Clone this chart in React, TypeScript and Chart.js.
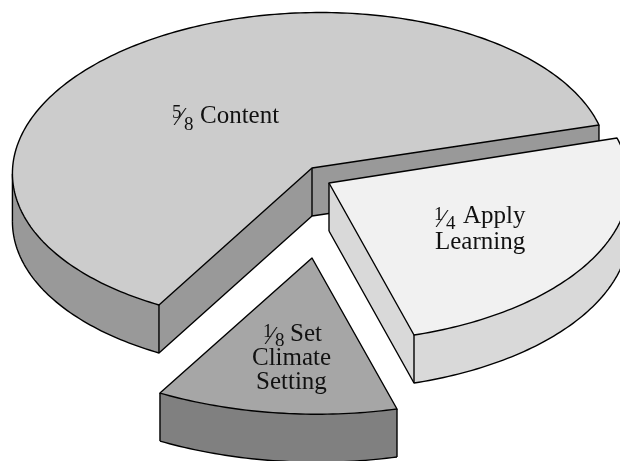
import React, { useEffect, useRef } from "react";
import { Chart, registerables } from "chart.js";

Chart.register(...registerables);

const categories = ["5/8 Content", "1/4 Apply Learning", "1/8 Set Climate Setting"];
const sliceValues = [5, 2, 1];
const topColors = ["#cccccc", "#f1f1f1", "#a6a6a6"];
const wallColors = ["#999999", "#d9d9d9", "#808080"];

// Each wedge is exploded and seen in perspective, so it has its own plane projection.
const planes = [
  { px: 312, py: 168, ux: 288.7, uy: -43.3, vx: -73.2, vy: -149.6, k: 0.006 },
  { px: 329, py: 183, ux: 288, uy: -45, vx: -85, vy: -152, k: 0 },
  { px: 312, py: 258, ux: 300, uy: -40, vx: -85, vy: -151, k: 0 },
];
const wallDepth = 48;
const LINE = 1.4;

// Word lines inside the wedges: text, left edge, baseline.
const wordLines = [
  { text: "Content", x: 200, y: 123 },
  { text: "Apply", x: 463, y: 223 },
  { text: "Learning", x: 435, y: 249 },
  { text: "Set", x: 290, y: 341 },
  { text: "Climate", x: 252, y: 365 },
  { text: "Setting", x: 256, y: 389 },
];

// Built-up fractions: numerator, denominator, left edge, numerator and denominator baselines.
const fractionLabels = [
  { top: "5", bottom: "8", x: 172, topY: 118, bottomY: 130 },
  { top: "1", bottom: "4", x: 434, topY: 220, bottomY: 229 },
  { top: "1", bottom: "8", x: 263, topY: 337, bottomY: 346 },
];

type Pt = { x: number; y: number };

function project(i: number, t: number, r = 1): Pt {
  const p = planes[i];
  const c = Math.cos(t) * r;
  const s = Math.sin(t) * r;
  const d = 1 + p.k * c;
  return { x: p.px + (c * p.ux + s * p.vx) / d, y: p.py + (c * p.uy + s * p.vy) / d };
}

// Outline counter-clockwise on screen: centre, then along the rim.
function outline(i: number, startAngle: number, endAngle: number) {
  const lo = -endAngle;
  const hi = -startAngle;
  const n = Math.max(8, Math.round(((hi - lo) * 180) / Math.PI));
  const pts: (Pt & { corner: boolean })[] = [{ ...project(i, 0, 0), corner: true }];
  for (let k = 0; k <= n; k++) {
    const t = lo + ((hi - lo) * k) / n;
    pts.push({ ...project(i, t), corner: k === 0 || k === n });
  }
  return pts;
}

function drawWedge(ctx: CanvasRenderingContext2D, i: number, arc: any, fill: string) {
  const { startAngle, endAngle } = arc.getProps(["startAngle", "endAngle"], true);
  const pts = outline(i, startAngle, endAngle);
  const count = pts.length;
  const at = (k: number) => pts[((k % count) + count) % count];
  const front = pts.map((a, k) => at(k + 1).x - a.x > 0);
  const isFront = (k: number) => front[((k % count) + count) % count];

  ctx.lineJoin = "round";
  ctx.lineWidth = LINE;
  ctx.strokeStyle = "#000000";

  // walls facing the viewer: each run of front edges is one solid band
  for (let k = 0; k < count; k++) {
    if (!isFront(k) || isFront(k - 1)) continue;
    let end = k;
    while (isFront(end)) end++;
    ctx.beginPath();
    for (let j = k; j <= end; j++) {
      const p = at(j);
      if (j === k) ctx.moveTo(p.x, p.y);
      else ctx.lineTo(p.x, p.y);
    }
    for (let j = end; j >= k; j--) {
      const p = at(j);
      ctx.lineTo(p.x, p.y + wallDepth);
    }
    ctx.closePath();
    ctx.fillStyle = wallColors[i];
    ctx.fill();

    ctx.beginPath();
    for (let j = k; j <= end; j++) {
      const p = at(j);
      if (j === k) ctx.moveTo(p.x, p.y + wallDepth);
      else ctx.lineTo(p.x, p.y + wallDepth);
    }
    ctx.stroke();
  }

  // vertical edges at corners and silhouettes
  pts.forEach((a, k) => {
    const before = isFront(k - 1);
    if ((before || front[k]) && (a.corner || before !== front[k])) {
      ctx.beginPath();
      ctx.moveTo(a.x, a.y);
      ctx.lineTo(a.x, a.y + wallDepth);
      ctx.stroke();
    }
  });

  // top face
  ctx.beginPath();
  pts.forEach((a, k) => (k ? ctx.lineTo(a.x, a.y) : ctx.moveTo(a.x, a.y)));
  ctx.closePath();
  ctx.fillStyle = fill;
  ctx.fill();
  ctx.stroke();
}

function drawLabels(ctx: CanvasRenderingContext2D) {
  ctx.fillStyle = "#111111";
  ctx.textBaseline = "alphabetic";
  ctx.textAlign = "left";
  ctx.font = '25px "Liberation Serif"';
  wordLines.forEach((l) => ctx.fillText(l.text, l.x, l.y));
  fractionLabels.forEach((f) => {
    ctx.font = '19px "Liberation Serif"';
    ctx.fillText(f.top, f.x, f.topY);
    ctx.fillText(f.bottom, f.x + 12, f.bottomY);
    ctx.font = '25px "Liberation Serif"';
    ctx.fillText("\u2044", f.x + 6, f.topY + 7);
  });
}

const explodedPie = {
  id: "explodedPie",
  beforeDatasetsDraw(chart: any) {
    const ctx = chart.ctx as CanvasRenderingContext2D;
    const arcs = chart.getDatasetMeta(0).data;
    ctx.save();
    ctx.fillStyle = "#ffffff";
    ctx.fillRect(0, 0, chart.width, chart.height);
    arcs.forEach((arc: any, i: number) => drawWedge(ctx, i, arc, topColors[i]));
    drawLabels(ctx);
    ctx.restore();
    return false;
  },
};

export default function App() {
  const ref = useRef<HTMLCanvasElement>(null);

  useEffect(() => {
    document.body.style.margin = "0";
    const chart = new Chart(ref.current!, {
      type: "pie",
      data: {
        labels: categories,
        datasets: [{ data: sliceValues, backgroundColor: topColors, borderWidth: 0 }],
      },
      options: {
        animation: false,
        responsive: false,
        rotation: -135,
        plugins: { legend: { display: false }, tooltip: { enabled: false } },
      },
      plugins: [explodedPie],
    });
    return () => chart.destroy();
  }, []);

  return <canvas ref={ref} width={620} height={461} style={{ display: "block" }} />;
}
